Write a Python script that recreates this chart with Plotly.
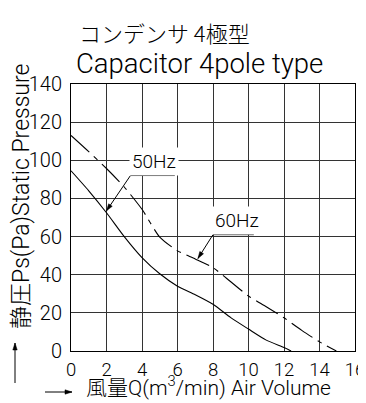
import plotly.graph_objs as go

# 50Hz (solid) and 60Hz (dash-dot) static pressure curves
q_50 = [0, 1, 2, 3, 4, 5, 6, 7, 8, 9, 10, 11, 12, 12.4]
ps_50 = [94.5, 84, 72.5, 60, 49, 40.5, 34, 29.5, 24.5, 17.5, 11.5, 5.7, 1.8, 0]

q_60 = [0, 1, 2, 3, 4, 5, 6, 7, 8, 9, 10, 11, 12, 13, 14, 14.95]
ps_60 = [113, 104.5, 95.7, 86, 74.3, 59.7, 52.5, 48.3, 43.7, 36.3, 28.8, 23.2, 17.4, 10.8, 4.8, 0]

x_ticks = [0, 2, 4, 6, 8, 10, 12, 14, 16]
y_ticks = [0, 20, 40, 60, 80, 100, 120, 140]

LAT = "Roboto, sans-serif"
JP = "Noto Sans CJK JP, sans-serif"

# page body has an 8px margin, so the figure starts 8px in; extra right margin
# keeps the last x tick label inside the svg
W, H = 366, 395
ML, MR, MT, MB = 63, 19, 76, 52
PW, PH = W - ML - MR, H - MT - MB


def arrow(fig, head, tail, ref, sx, sy, size=7, half=2.2):
    # shaft plus filled arrowhead, head/tail in ref units, sx/sy = px per unit
    fig.add_shape(type='line', xref=ref[0], yref=ref[1], x0=tail[0], y0=tail[1],
                  x1=head[0], y1=head[1], line=dict(color='black', width=1))
    dx = (head[0] - tail[0]) * sx
    dy = (head[1] - tail[1]) * sy
    n = (dx ** 2 + dy ** 2) ** 0.5
    ux, uy = dx / n, dy / n
    bx, by = head[0] - ux * size / sx, head[1] - uy * size / sy
    p1 = (bx - uy * half / sx, by + ux * half / sy)
    p2 = (bx + uy * half / sx, by - ux * half / sy)
    path = f"M {head[0]},{head[1]} L {p1[0]},{p1[1]} L {p2[0]},{p2[1]} Z"
    fig.add_shape(type='path', xref=ref[0], yref=ref[1], path=path,
                  fillcolor='black', line=dict(color='black', width=0.5))


def add_leader(fig, label, head, tail, text_w):
    sx, sy = PW / 16, PH / 140
    arrow(fig, head, tail, ('x', 'y'), sx, sy)
    fig.add_annotation(x=tail[0], y=tail[1], text=label, showarrow=False,
                       xanchor='left', yanchor='bottom', xshift=-1, yshift=0,
                       bgcolor='white', borderpad=2,
                       font=dict(family=LAT, size=19, color='black', weight=300))
    fig.add_shape(type='line', x0=tail[0], y0=tail[1], x1=tail[0] + text_w, y1=tail[1],
                  line=dict(color='black', width=1))


fig = go.Figure()
fig.add_trace(go.Scatter(x=q_50, y=ps_50, mode='lines', name='50Hz',
                         line=dict(color='black', width=1.1, shape='spline', smoothing=0.6)))
fig.add_trace(go.Scatter(x=q_60, y=ps_60, mode='lines', name='60Hz',
                         line=dict(color='black', width=1.1, shape='spline', smoothing=0.6,
                                   dash='25px,6px,5px,6px')))

add_leader(fig, '50Hz', (2.0, 73.5), (3.35, 92), 2.5)
add_leader(fig, '60Hz', (7.15, 48.5), (8.0, 61), 2.3)

pxp = (1 / PW, 1 / PH)

# titles
fig.add_annotation(xref='paper', yref='paper', x=0.02, y=52 * pxp[1] + 1, text='コンデンサ 4極型',
                   showarrow=False, xanchor='left', yanchor='middle',
                   font=dict(family=JP, size=22, color='black', weight=300))
fig.add_annotation(xref='paper', yref='paper', x=0.01, y=21 * pxp[1] + 1, text='Capacitor 4pole type',
                   showarrow=False, xanchor='left', yanchor='middle',
                   font=dict(family=LAT, size=27.5, color='black', weight=300))

# axis titles with arrows
fig.add_annotation(xref='paper', yref='paper', x=-50 * pxp[0], y=155 * pxp[1],
                   xanchor='center', yanchor='middle',
                   text='静圧Ps(Pa)Static Pressure', textangle=-90, showarrow=False,
                   font=dict(family=LAT + ', ' + JP, size=23, color='black', weight=300))
arrow(fig, (-56 * pxp[0], 8 * pxp[1]), (-56 * pxp[0], -32 * pxp[1]), ('paper', 'paper'), PW, PH)
fig.add_annotation(xref='paper', yref='paper', x=13 * pxp[0], y=-51 * pxp[1],
                   xanchor='left', yanchor='bottom',
                   text='風量Q(m<sup>3</sup>/min) Air Volume', showarrow=False,
                   font=dict(family=LAT + ', ' + JP, size=21, color='black', weight=300))
arrow(fig, (1 * pxp[0], -41 * pxp[1]), (-26 * pxp[0], -41 * pxp[1]), ('paper', 'paper'), PW, PH)

axis_style = dict(showgrid=True, gridcolor='#333', gridwidth=1, showline=True,
                  linecolor='black', linewidth=1, mirror=True, zeroline=False, ticks='',
                  ticklabeloverflow='allow')
fig.update_xaxes(range=[0, 16], tickvals=x_ticks, ticklabelstandoff=2,
                 tickfont=dict(family=LAT, size=18.5, color='black', weight=300), **axis_style)
fig.update_yaxes(range=[0, 140], tickvals=y_ticks, ticklabelstandoff=4,
                 tickfont=dict(family=LAT, size=20, color='black', weight=300), **axis_style)

fig.update_layout(width=W, height=H, margin=dict(l=ML, r=MR, t=MT, b=MB, autoexpand=False),
                  plot_bgcolor='white', paper_bgcolor='white', showlegend=False)

fig.write_html("out.html")
